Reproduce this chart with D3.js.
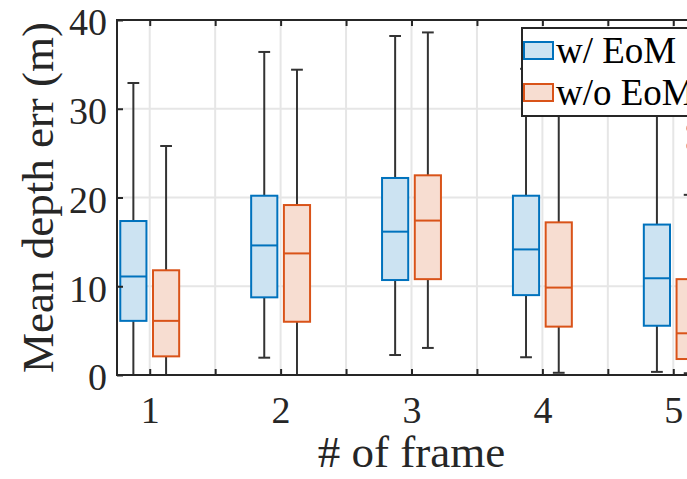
<!DOCTYPE html>
<html>
<head>
<meta charset="utf-8">
<script src="https://cdn.jsdelivr.net/npm/d3@7"></script>
<style>
  html, body { margin: 0; padding: 0; background: #fff; }
  svg { display: block; }
</style>
</head>
<body>
<svg id="chart" width="687" height="479"></svg>
<script>
// Frame counts on the x axis
const categories = [1, 2, 3, 4, 5];
const xTickValues = [1, 1.5, 2, 2.5, 3, 3.5, 4, 4.5, 5];
const yTickValues = [0, 10, 20, 30, 40];

// Series names
const seriesNames = ["w/ EoM", "w/o EoM"];

// Box statistics, "w/ EoM"
const lowW  = [0.0, 1.95, 2.25, 2.0, 0.35];
const q1W   = [6.1, 8.75, 10.7, 9.0, 5.55];
const medW  = [11.1, 14.6, 16.15, 14.15, 10.9];
const q3W   = [17.35, 20.2, 22.2, 20.2, 16.95];
const highW = [32.9, 36.4, 38.2, 34.5, 33.0];
const outW  = [[], [], [], [], []];

// Box statistics, "w/o EoM"
const lowO  = [0.0, 0.0, 3.05, 0.25, 0.2];
const q1O   = [2.1, 6.0, 10.8, 5.45, 1.8];
const medO  = [6.1, 13.7, 17.4, 9.85, 4.7];
const q3O   = [11.8, 19.15, 22.5, 17.2, 10.8];
const highO = [25.8, 34.4, 38.6, 31.5, 20.3];
const outO  = [[], [], [], [], [25.8, 27.8]];

const series = [
  { name: seriesNames[0], offset: -0.125, stroke: "#0072BD", fill: "#cce3f2",
    low: lowW, q1: q1W, med: medW, q3: q3W, high: highW, out: outW },
  { name: seriesNames[1], offset: 0.125, stroke: "#D95319", fill: "#f7ddd1",
    low: lowO, q1: q1O, med: medO, q3: q3O, high: highO, out: outO }
];

const svg = d3.select("#chart");
const font = "'Liberation Serif', 'Times New Roman', serif";
const ink = "#262626";

const x = d3.scaleLinear().domain([0.75, 5.25]).range([117, 706]);
const y = d3.scaleLinear().domain([0, 40]).range([375, 20]);
const boxHalf = 0.1, capHalf = 0.045;

// Grid
const grid = svg.append("g");
grid.selectAll("line.gx").data(xTickValues).join("line")
  .attr("x1", d => x(d)).attr("x2", d => x(d))
  .attr("y1", y(0)).attr("y2", y(40))
  .attr("stroke", "#e6e6e6").attr("stroke-width", 2);
grid.selectAll("line.gy").data(yTickValues).join("line")
  .attr("x1", x(0.75)).attr("x2", x(5.25))
  .attr("y1", d => y(d)).attr("y2", d => y(d))
  .attr("stroke", "#e6e6e6").attr("stroke-width", 2);

// Boxes and whiskers
series.forEach(s => {
  const g = svg.append("g");
  categories.forEach((c, i) => {
    const cx = c + s.offset;
    // whiskers
    g.append("line").attr("x1", x(cx)).attr("x2", x(cx))
      .attr("y1", y(s.q3[i])).attr("y2", y(s.high[i]))
      .attr("stroke", "#333").attr("stroke-width", 2);
    g.append("line").attr("x1", x(cx)).attr("x2", x(cx))
      .attr("y1", y(s.q1[i])).attr("y2", y(s.low[i]))
      .attr("stroke", "#333").attr("stroke-width", 2);
    [s.high[i], s.low[i]].forEach(v => {
      g.append("line").attr("x1", x(cx - capHalf)).attr("x2", x(cx + capHalf))
        .attr("y1", y(v)).attr("y2", y(v))
        .attr("stroke", "#333").attr("stroke-width", 2);
    });
    // box
    g.append("rect")
      .attr("x", x(cx - boxHalf)).attr("width", x(cx + boxHalf) - x(cx - boxHalf))
      .attr("y", y(s.q3[i])).attr("height", y(s.q1[i]) - y(s.q3[i]))
      .attr("fill", s.fill).attr("stroke", s.stroke).attr("stroke-width", 2);
    // median
    g.append("line").attr("x1", x(cx - boxHalf)).attr("x2", x(cx + boxHalf))
      .attr("y1", y(s.med[i])).attr("y2", y(s.med[i]))
      .attr("stroke", s.stroke).attr("stroke-width", 2);
    // outliers
    s.out[i].forEach(v => {
      g.append("circle").attr("cx", x(cx)).attr("cy", y(v)).attr("r", 3.6)
        .attr("fill", s.stroke).attr("opacity", 0.55);
    });
  });
});

// Axes
function styleAxis(g) {
  g.select(".domain").remove();
  g.selectAll(".tick line").attr("stroke", ink).attr("stroke-width", 2);
  g.selectAll("text").attr("fill", ink).style("font-family", font).style("font-size", "38px");
}
const fmtX = d => Number.isInteger(d) ? String(d) : "";

svg.append("g").attr("transform", `translate(0,${y(0)})`)
  .call(d3.axisBottom(x).tickValues(xTickValues).tickFormat(fmtX).tickSizeInner(-6).tickSizeOuter(0).tickPadding(21))
  .call(styleAxis);
svg.append("g").attr("transform", `translate(0,${y(40)})`)
  .call(d3.axisTop(x).tickValues(xTickValues).tickFormat("").tickSizeInner(-6).tickSizeOuter(0))
  .call(styleAxis);
svg.append("g").attr("transform", `translate(${x(0.75)},0)`)
  .call(d3.axisLeft(y).tickValues(yTickValues).tickSizeInner(-6).tickSizeOuter(0).tickPadding(10))
  .call(styleAxis)
  .call(g => g.selectAll("text").attr("dy", "0.39em"));

// Frame
svg.append("rect")
  .attr("x", x(0.75)).attr("y", y(40))
  .attr("width", x(5.25) - x(0.75)).attr("height", y(0) - y(40))
  .attr("fill", "none").attr("stroke", ink).attr("stroke-width", 2);

// Axis titles
svg.append("text")
  .attr("x", x(3)).attr("y", 467)
  .attr("text-anchor", "middle")
  .attr("fill", ink).style("font-family", font).style("font-size", "45px")
  .text("# of frame");
svg.append("text")
  .attr("transform", `translate(53,${(y(0) + y(40)) / 2}) rotate(-90)`)
  .attr("text-anchor", "middle")
  .attr("fill", ink).style("font-family", font).style("font-size", "45px")
  .text("Mean depth err (m)");

// Legend
const legend = svg.append("g").attr("transform", "translate(522,28)");
legend.append("rect").attr("x", 0).attr("y", 0).attr("width", 200).attr("height", 88)
  .attr("fill", "#fff").attr("stroke", ink).attr("stroke-width", 2);
series.forEach((s, i) => {
  const row = legend.append("g").attr("transform", `translate(0,${14 + i * 42})`);
  row.append("rect").attr("x", 2).attr("y", 0).attr("width", 29).attr("height", 17)
    .attr("fill", s.fill).attr("stroke", s.stroke).attr("stroke-width", 2);
  row.append("text").attr("x", 34).attr("y", 21)
    .attr("fill", "#000").style("font-family", font).style("font-size", "37px")
    .text(s.name);
});
</script>
</body>
</html>
